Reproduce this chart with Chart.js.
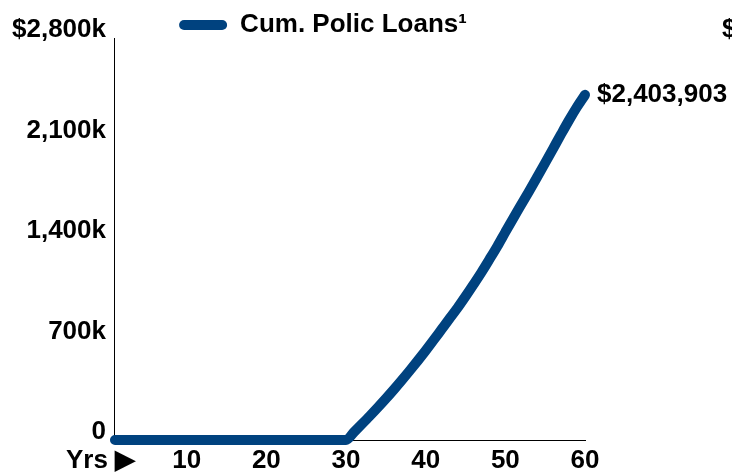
<!DOCTYPE html>
<html>
<head>
<meta charset="utf-8">
<script src="https://cdn.jsdelivr.net/npm/chart.js@4/dist/chart.umd.min.js"></script>
<style>
  html, body { margin: 0; padding: 0; background: #fff; }
  #wrap { width: 732px; height: 474px; position: relative; }
</style>
</head>
<body>
<div id="wrap"><canvas id="loansChart"></canvas></div>
<script>
// policy years on the x axis
const years = [
  1, 2, 3, 4, 5, 6, 7, 8, 9, 10, 11, 12, 13, 14, 15, 16, 17, 18, 19, 20,
  21, 22, 23, 24, 25, 26, 27, 28, 29, 30, 31, 32, 33, 34, 35, 36, 37, 38, 39, 40,
  41, 42, 43, 44, 45, 46, 47, 48, 49, 50, 51, 52, 53, 54, 55, 56, 57, 58, 59, 60
];

// cumulative policy loans, dollars (nothing borrowed until year 30)
const cumLoans = [
  0, 0, 0, 0, 0, 0, 0, 0, 0, 0,
  0, 0, 0, 0, 0, 0, 0, 0, 0, 0,
  0, 0, 0, 0, 0, 0, 0, 0, 0, 0,
  55000, 111000, 168000, 227000, 288000, 351000, 416000, 483000, 552000, 623000,
  696000, 771000, 846000, 920000, 1000000, 1083000, 1168000, 1258000, 1350000, 1448000,
  1545000, 1640000, 1735000, 1832000, 1930000, 2030000, 2130000, 2228000, 2320000, 2403903
];

const seriesLabel = 'Cum. Polic Loans\u00B9';
const xTickYears = [1, 10, 20, 30, 40, 50, 60];
const xTickText = ['Yrs \u25B6    ', '10', '20', '30', '40', '50', '60'];
const yMax = 2800000;
const yStep = 700000;

const BLUE = '#00427f';
const FONT = '"Liberation Sans", Arial, Helvetica, sans-serif';
const FS = 26;

Chart.defaults.font.family = FONT;
Chart.defaults.color = '#000';

function money(v) {
  return '$' + Math.round(v).toLocaleString('en-US');
}

// legend keeps a fixed 10px gap under it; pull the plot up closer
const tightLegend = {
  id: 'tightLegend',
  beforeInit(chart) {
    const fit = chart.legend.fit;
    chart.legend.fit = function () {
      fit.call(this);
      this.height -= 10;
    };
  }
};

// value label at the end of the line, plus the next panel's top axis label cut off at the edge
const endLabels = {
  id: 'endLabels',
  afterDatasetsDraw(chart) {
    const ctx = chart.ctx;
    const meta = chart.getDatasetMeta(0);
    const last = meta.data[meta.data.length - 1];
    const y = chart.scales.y;
    ctx.save();
    ctx.font = 'bold ' + FS + 'px ' + FONT;
    ctx.fillStyle = '#000';
    ctx.textAlign = 'left';
    ctx.textBaseline = 'middle';
    ctx.fillText(money(cumLoans[cumLoans.length - 1]), last.x + 12, last.y);
    ctx.fillText('$' + (yMax / 1000).toLocaleString('en-US') + 'k', 722, y.getPixelForValue(yMax) - 8);
    ctx.restore();
  }
};

let chartContainer = document.getElementById('loansChart');
let chart = new Chart(chartContainer, {
  type: 'line',
  data: {
    labels: years,
    datasets: [{
      label: seriesLabel,
      data: cumLoans,
      borderColor: BLUE,
      backgroundColor: BLUE,
      borderWidth: 10,
      borderCapStyle: 'round',
      borderJoinStyle: 'round',
      pointRadius: 0,
      cubicInterpolationMode: 'monotone',
      fill: false,
      clip: false
    }]
  },
  options: {
    responsive: true,
    maintainAspectRatio: false,
    animation: false,
    layout: { padding: { left: 3, right: 89, top: 12, bottom: 0 } },
    plugins: {
      tooltip: { enabled: false },
      legend: {
        position: 'top',
        align: 'center',
        labels: {
          boxWidth: 48,
          boxHeight: 10,
          useBorderRadius: true,
          borderRadius: 5,
          padding: 0,
          font: { size: FS, weight: 'bold', lineHeight: 1 },
          generateLabels: () => [{
            text: seriesLabel,
            fillStyle: BLUE,
            strokeStyle: BLUE,
            lineWidth: 0,
            borderRadius: 5,
            datasetIndex: 0
          }]
        }
      }
    },
    scales: {
      x: {
        type: 'category',
        offset: false,
        grid: { display: false, drawTicks: false },
        border: { display: true, color: '#000', width: 1 },
        ticks: {
          autoSkip: false,
          maxRotation: 0,
          padding: 8,
          font: { size: FS, weight: 'bold', lineHeight: 1 },
          color: '#000',
          callback: function (val, index) {
            const i = xTickYears.indexOf(years[index]);
            return i === -1 ? null : xTickText[i];
          }
        },
        afterFit: function (scale) { scale.height = 34; }
      },
      y: {
        min: 0,
        max: yMax,
        grid: { display: false, drawTicks: false },
        border: { display: true, color: '#000', width: 1 },
        ticks: {
          stepSize: yStep,
          labelOffset: -8,
          padding: 9,
          font: { size: FS, weight: 'bold', lineHeight: 1 },
          color: '#000',
          callback: function (v) {
            if (v === 0) return '0';
            const k = (v / 1000).toLocaleString('en-US') + 'k';
            return v === yMax ? '$' + k : k;
          }
        }
      },
      // empty right-hand gutter
      y2: {
        type: 'linear',
        position: 'right',
        display: true,
        grid: { display: false, drawTicks: false },
        border: { display: false },
        ticks: { display: false },
        afterFit: function (scale) { scale.width = 58; }
      }
    }
  },
  plugins: [tightLegend, endLabels]
});
</script>
</body>
</html>
